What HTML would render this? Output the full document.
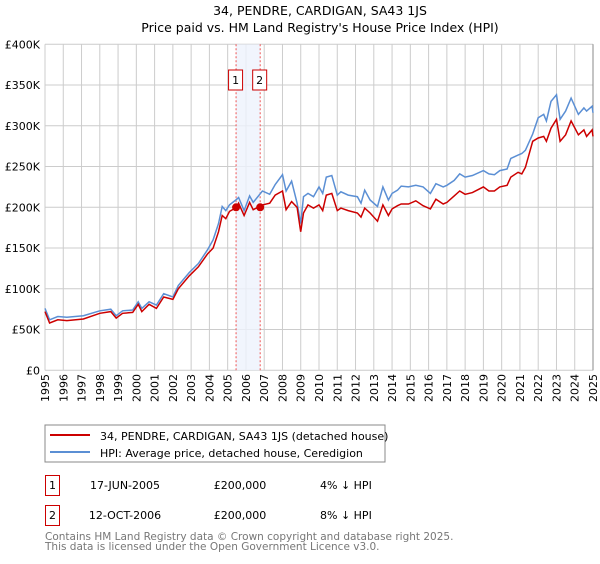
<!DOCTYPE html>
<html><head><meta charset="utf-8"><style>
body{margin:0;background:#fff;font-family:"DejaVu Sans","Liberation Sans",sans-serif;}
svg text{font-family:"DejaVu Sans","Liberation Sans",sans-serif;}
</style></head><body>
<svg id="chart" width="600" height="560" viewBox="0 0 600 560">
<text x="320" y="15" text-anchor="middle" font-size="12.5">34, PENDRE, CARDIGAN, SA43 1JS</text>
<text x="320" y="32" text-anchor="middle" font-size="12.5">Price paid vs. HM Land Registry's House Price Index (HPI)</text>
<g id="grid"></g><g id="axes"></g><g id="series"></g>
<rect x="45" y="425" width="340" height="37" fill="#fff" stroke="#888"/>
<line x1="50" y1="435" x2="90" y2="435" stroke="#cc0000" stroke-width="2"/>
<text x="100" y="440" font-size="11">34, PENDRE, CARDIGAN, SA43 1JS (detached house)</text>
<line x1="50" y1="452" x2="90" y2="452" stroke="#5b8fd4" stroke-width="2"/>
<text x="100" y="457" font-size="11">HPI: Average price, detached house, Ceredigion</text>
<g>
<rect x="45.5" y="475.5" width="14" height="20" fill="none" stroke="#cc0000"/>
<text x="52.5" y="489" font-size="11" text-anchor="middle">1</text>
<text x="125" y="489" font-size="11" text-anchor="middle">17-JUN-2005</text>
<text x="240" y="489" font-size="11" text-anchor="middle">£200,000</text>
<text x="320" y="489" font-size="11">4% ↓ HPI</text></g>
<g>
<rect x="45.5" y="505.5" width="14" height="20" fill="none" stroke="#cc0000"/>
<text x="52.5" y="519" font-size="11" text-anchor="middle">2</text>
<text x="125" y="519" font-size="11" text-anchor="middle">12-OCT-2006</text>
<text x="240" y="519" font-size="11" text-anchor="middle">£200,000</text>
<text x="320" y="519" font-size="11">8% ↓ HPI</text></g>
<text x="45" y="540" font-size="10.5" fill="#777">Contains HM Land Registry data © Crown copyright and database right 2025.</text>
<text x="45" y="550" font-size="10.5" fill="#777">This data is licensed under the Open Government Licence v3.0.</text>
</svg>
<script>
const hpiYears=[1995,1995.25,1995.7,1996.2,1997.1,1998,1998.6,1998.9,1999.25,1999.8,2000.1,2000.3,2000.7,2001.1,2001.5,2002,2002.3,2002.9,2003.4,2003.9,2004.2,2004.5,2004.7,2004.9,2005.1,2005.5,2005.6,2005.9,2006.2,2006.4,2006.9,2007.3,2007.6,2008,2008.2,2008.5,2008.8,2009.0,2009.15,2009.4,2009.7,2010,2010.2,2010.4,2010.7,2011,2011.2,2011.6,2012.1,2012.3,2012.5,2012.8,2013.2,2013.5,2013.8,2014,2014.3,2014.5,2014.9,2015.3,2015.7,2016.1,2016.4,2016.8,2017,2017.4,2017.7,2018,2018.4,2019,2019.3,2019.6,2019.9,2020.3,2020.5,2020.9,2021.1,2021.3,2021.7,2022,2022.3,2022.45,2022.7,2023,2023.2,2023.5,2023.8,2024.2,2024.5,2024.65,2024.95,2025];
const hpiValues=[76,62,66,65,67,73,75,67,73,74,84,76,84,80,94,90,104,120,131,148,160,180,201,196,203,210,212,196,214,206,220,216,228,240,220,232,205,180,213,217,213,225,217,237,239,215,219,215,213,205,221,209,201,225,209,217,221,226,225,227,225,217,229,225,227,233,241,237,239,245,241,240,245,247,260,264,266,270,290,310,314,306,330,338,308,318,334,314,322,318,324,316];
const priceValues=[72,58,62,61,63,70,72,64,70,71,81,72,81,76,90,87,100,116,127,143,150,170,190,186,195,200,205,190,206,197,203,205,215,220,197,207,200,170,193,203,199,203,196,215,217,196,199,196,193,188,199,193,183,203,190,198,202,204,204,208,202,198,210,204,206,214,220,216,218,225,220,220,225,227,237,243,241,249,281,285,287,281,297,308,281,289,306,289,295,287,295,287];
const saleYears=[2005.46,2006.78];
const saleValues=[200,200];
const yTicks=[0,50,100,150,200,250,300,350,400];
const yTickLabels=["£0","£50K","£100K","£150K","£200K","£250K","£300K","£350K","£400K"];
const NS="http://www.w3.org/2000/svg";
const X=y=>45+(y-1995)*(548/30);
const Y=v=>370.3-v*0.815;
function mk(tag,attrs,parent){const e=document.createElementNS(NS,tag);for(const k in attrs)e.setAttribute(k,attrs[k]);parent.appendChild(e);return e;}
const grid=document.getElementById('grid'),axes=document.getElementById('axes'),ser=document.getElementById('series');
for(let yr=1995;yr<=2025;yr++){
  const l=mk('line',{x1:X(yr),x2:X(yr),y1:Y(400),y2:Y(0),stroke:'#cccccc'},grid);
  
  
  const t=mk('text',{x:0,y:0,'font-size':11,'text-anchor':'end',transform:`translate(${X(yr)+4},374) rotate(-90)`},axes);
  t.textContent=String(yr);
  
  
}
yTicks.forEach((v,i)=>{
  const l=mk('line',{x1:X(1995),x2:X(2025),y1:Y(v),y2:Y(v),stroke:'#cccccc'},grid);
  
  
  const t=mk('text',{x:40,y:Y(v)+4,'font-size':11,'text-anchor':'end'},axes);
  t.textContent=yTickLabels[i];
  
  
});
const band=mk('rect',{x:X(saleYears[0]),y:Y(400),width:X(saleYears[1])-X(saleYears[0]),height:Y(0)-Y(400),fill:'#eef3fc',opacity:0.8},grid);


saleYears.forEach((yr,i)=>{
  const l=mk('line',{x1:X(yr),x2:X(yr),y1:Y(400),y2:Y(0),stroke:'#ee5555','stroke-dasharray':'2,2'},grid);
  
  
  const g=mk('g',{},ser);
  
  
  mk('rect',{x:X(yr)-7.5,y:70,width:14,height:20,fill:'#fff',stroke:'#cc0000'},g);
  const t=mk('text',{x:X(yr)-0.5,y:84,'font-size':11,'text-anchor':'middle'},g);t.textContent=String(i+1);
});
mk('line',{x1:X(2025),x2:X(2025),y1:Y(400),y2:Y(0),stroke:'#888'},axes);
function path(xs,vs){return xs.map((x,i)=>(i?'L':'M')+X(x).toFixed(1)+','+Y(vs[i]).toFixed(1)).join('');}
const hp=mk('path',{d:path(hpiYears,hpiValues),fill:'none',stroke:'#5b8fd4','stroke-width':1.5},ser);


const pp=mk('path',{d:path(hpiYears,priceValues),fill:'none',stroke:'#cc0000','stroke-width':1.5},ser);


saleYears.forEach((yr,i)=>{
  const c=mk('circle',{cx:X(yr),cy:Y(saleValues[i]),r:4,fill:'#cc0000'},ser);
  
  
});
</script>
</body></html>
